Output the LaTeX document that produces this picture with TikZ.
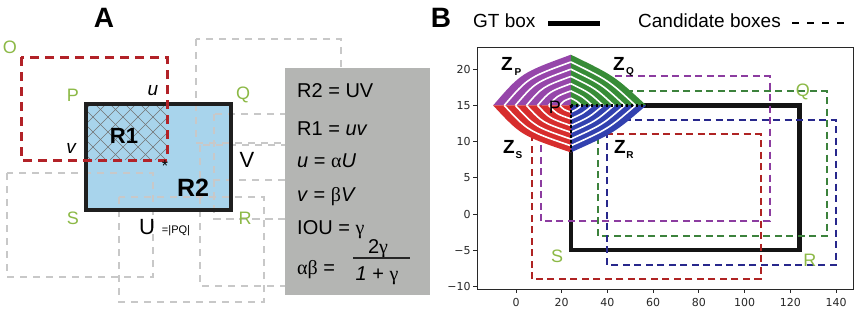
\documentclass[tikz,border=0pt]{standalone}
\usepackage{fontspec}
\setmainfont{Liberation Sans}
\newfontfamily\grk{Liberation Serif}
\newfontfamily\dvs{DejaVu Sans}
\definecolor{lgreen}{RGB}{140,185,70}
\definecolor{boxblue}{RGB}{168,212,236}
\definecolor{panelgray}{RGB}{180,181,179}
\definecolor{dashgray}{RGB}{200,200,200}
\definecolor{adred}{RGB}{178,34,40}
\definecolor{fpurple}{RGB}{150,70,170}
\definecolor{fgreen}{RGB}{55,140,55}
\definecolor{fred}{RGB}{215,45,45}
\definecolor{fblue}{RGB}{50,65,175}
\definecolor{cpurple}{RGB}{140,60,160}
\definecolor{cgreen}{RGB}{60,130,60}
\definecolor{cblue}{RGB}{40,40,140}
\definecolor{cred}{RGB}{175,35,35}
\definecolor{axgray}{RGB}{40,40,40}
\newcommand{\fanquad}[4]{%
  \fill[#1] (24,15) -- ({24+(#2)},15) .. controls ({24+#4*(#2)},{15+#4*(#3)}) .. (24,{15+(#3)}) -- cycle;
  \foreach \r in {0.1429,0.2857,0.4286,0.5714,0.7143,0.8571}{%
    \draw[white,line width=1.6pt] ({24+\r*(#2)},15) .. controls ({24+\r*#4*(#2)},{15+\r*#4*(#3)}) .. (24,{15+\r*(#3)});
  }%
}
\begin{document}
\begin{tikzpicture}[x=1pt,y=-1pt,
  lbl/.style={inner sep=0pt,font=\fontsize{18}{18}\selectfont},
  glbl/.style={lbl,text=lgreen},
  bigl/.style={inner sep=0pt,font=\fontsize{28}{28}\selectfont\bfseries},
  frm/.style={inner sep=0pt,anchor=base west,font=\fontsize{20}{20}\selectfont},
  graydash/.style={draw=dashgray,line width=1.8pt,dash pattern=on 7pt off 6pt},
  reddash/.style={draw=adred,line width=3pt,dash pattern=on 9pt off 6pt},
  hatchline/.style={draw=black!55,line width=0.6pt},
  cdash/.style={line width=2pt,dash pattern=on 7pt off 4.5pt},
  ticklbl/.style={inner sep=0pt,text=axgray,font=\dvs\fontsize{11}{11}\selectfont},
  zlbl/.style={inner sep=0pt,font=\fontsize{19}{19}\selectfont\bfseries}
]
\useasboundingbox (0,0) rectangle (864,311);
\fill[white] (0,0) rectangle (864,311);

% ---------------- Panel A ----------------
\fill[boxblue] (86,104) rectangle (231,210);
\begin{scope}
  \clip (86,104) rectangle (167,160);
  \foreach \i in {20,35,...,185}{
    \draw[hatchline] (\i,104) -- ++(60,60);
    \draw[hatchline] (\i,160) -- ++(60,-60);
  }
\end{scope}
% grey candidate boxes
\draw[graydash] (7,173) rectangle (153,277);
\draw[graydash] (119,197) rectangle (264,302);
\draw[graydash] (196,39) rectangle (341,143);
\draw[graydash] (214,114) rectangle (360,219);
\draw[graydash] (200,145) rectangle (350,286);
\draw[graydash] (214,180) rectangle (360,219);
% GT box and red candidate
\draw[line width=4.3pt,black!88] (86,104) rectangle (231,210);
\draw[reddash] (21,57) rectangle (167,160);

\node[bigl] (tA) at (104,18) {A};
\node[glbl] (lO) at (10,47) {O};
\node[glbl] (lP) at (73,95) {P};
\node[glbl] (lQ) at (243,95) {Q};
\node[glbl] (lS) at (73,218) {S};
\node[glbl] (lR) at (245,218) {R};
\node[inner sep=0pt,font=\fontsize{19}{19}\selectfont\itshape] (lu) at (153,91) {u};
\node[inner sep=0pt,font=\fontsize{19}{19}\selectfont\itshape] (lv) at (71,148) {v};
\node[inner sep=0pt,font=\fontsize{16}{16}\selectfont] (ast) at (165,166) {*};
\node[inner sep=0pt,font=\fontsize{22}{22}\selectfont] (lV) at (247,160) {V};
\node[inner sep=0pt,font=\fontsize{22}{22}\selectfont] (lU) at (147,227) {U};
\node[inner sep=0pt,font=\fontsize{11}{11}\selectfont] (lPQ) at (176,231) {=|PQ|};
\node[inner sep=0pt,font=\fontsize{22}{22}\selectfont\bfseries] (lR1) at (124,136) {R1};
\node[inner sep=0pt,font=\fontsize{25}{25}\selectfont\bfseries] (lR2) at (193,188) {R2};

% formula panel
\fill[panelgray] (285,68) rectangle (430,295);
\node[frm] (f1) at (297,97) {R2 = UV};
\node[frm] (f2) at (297,135) {R1 = \textit{uv}};
\node[frm] (f3) at (297,167) {\textit{u} = {\grk α}\textit{U}};
\node[frm] (f4) at (297,201) {\textit{v} = {\grk β}\textit{V}};
\node[frm] (f5) at (297,234) {IOU = {\grk γ}};
\node[frm] (f6) at (297,274) {{\grk αβ} =};
\node[frm,anchor=base] (fn) at (378,253) {2{\grk γ}};
\node[frm,anchor=base] (fd) at (377,280) {\textit{1} + {\grk γ}};
\coordinate (barL) at (353,258);
\coordinate (barR) at (410,258);
\draw[line width=1.6pt,black!85] (barL) -- (barR);

% ---------------- Panel B ----------------
\node[bigl] (tB) at (441,18) {B};
\node[inner sep=0pt,anchor=base west,font=\fontsize{19}{19}\selectfont] (gt) at (473,27) {GT box};
\coordinate (gl1) at (548,23);
\coordinate (gl2) at (600,23);
\draw[line width=5pt] (gl1) -- (gl2);
\node[inner sep=0pt,anchor=base west,font=\fontsize{19}{19}\selectfont] (cb) at (638,27) {Candidate boxes};
\coordinate (cl1) at (792,23);
\coordinate (cl2) at (850,23);
\draw[line width=2.5pt,dash pattern=on 7pt off 8pt] (cl1) -- (cl2);

% frame
\draw[axgray,line width=1pt] (477,47) rectangle (853,289);

\begin{scope}[shift={(516pt,-214pt)},x=2.2857pt,y=7.24pt]
  % ticks
  \foreach \v in {0,20,...,140}{
    \draw[axgray,line width=0.8pt] (\v,-10.36) -- ++(0pt,-4pt);
    \node[ticklbl,anchor=north] at (\v,-11.6) {\v};
  }
  \foreach \v/\t in {-10/−10,-5/−5,0/0,5/5,10/10,15/15,20/20}{
    \draw[axgray,line width=0.8pt] (-17.06,\v) -- ++(-4pt,0pt);
    \node[ticklbl,anchor=east] at (-19.8,\v) {\t};
  }
  % GT box
  \draw[line width=4.5pt,black!92] (24,-5) rectangle (124,15);
  % candidate boxes
  \draw[cpurple,cdash] (11,-1) rectangle (111,19);
  \draw[cgreen,cdash] (36,-3) rectangle (136,17);
  \draw[cblue,cdash] (40,-7) rectangle (140,13);
  \draw[cred,cdash] (7,-9) rectangle (107,11);
  % fans
  \fanquad{fpurple}{-34}{7}{0.64}
  \fanquad{fgreen}{33}{7}{0.58}
  \fanquad{fred}{-34}{-6.5}{0.64}
  \fanquad{fblue}{33}{-6.5}{0.58}
  \draw[line width=2.6pt,dash pattern=on 2.5pt off 2.5pt] (24,15) -- (57,15);
  \draw[line width=2.6pt,dash pattern=on 2.5pt off 2.5pt] (24,15) -- (24,8.5);
  % labels
  \node[lbl] (bP) at (17,14.7) {P};
  \node[glbl] (bQ) at (125.5,16.9) {Q};
  \node[glbl] (bR) at (128.6,-6.4) {R};
  \node[glbl] (bS) at (18,-5.8) {S};
\end{scope}
\node[zlbl] (zP) at (507,64) {Z};
\node[inner sep=0pt,font=\fontsize{10}{10}\selectfont\bfseries] (zPs) at (518,72) {P};
\node[zlbl] (zQ) at (619,64) {Z};
\node[inner sep=0pt,font=\fontsize{10}{10}\selectfont\bfseries] (zQs) at (630,72) {Q};
\node[zlbl] (zS) at (509,147) {Z};
\node[inner sep=0pt,font=\fontsize{10}{10}\selectfont\bfseries] (zSs) at (519,155) {S};
\node[zlbl] (zR) at (620,147) {Z};
\node[inner sep=0pt,font=\fontsize{10}{10}\selectfont\bfseries] (zRs) at (630,155) {R};
\end{tikzpicture}
\end{document}
